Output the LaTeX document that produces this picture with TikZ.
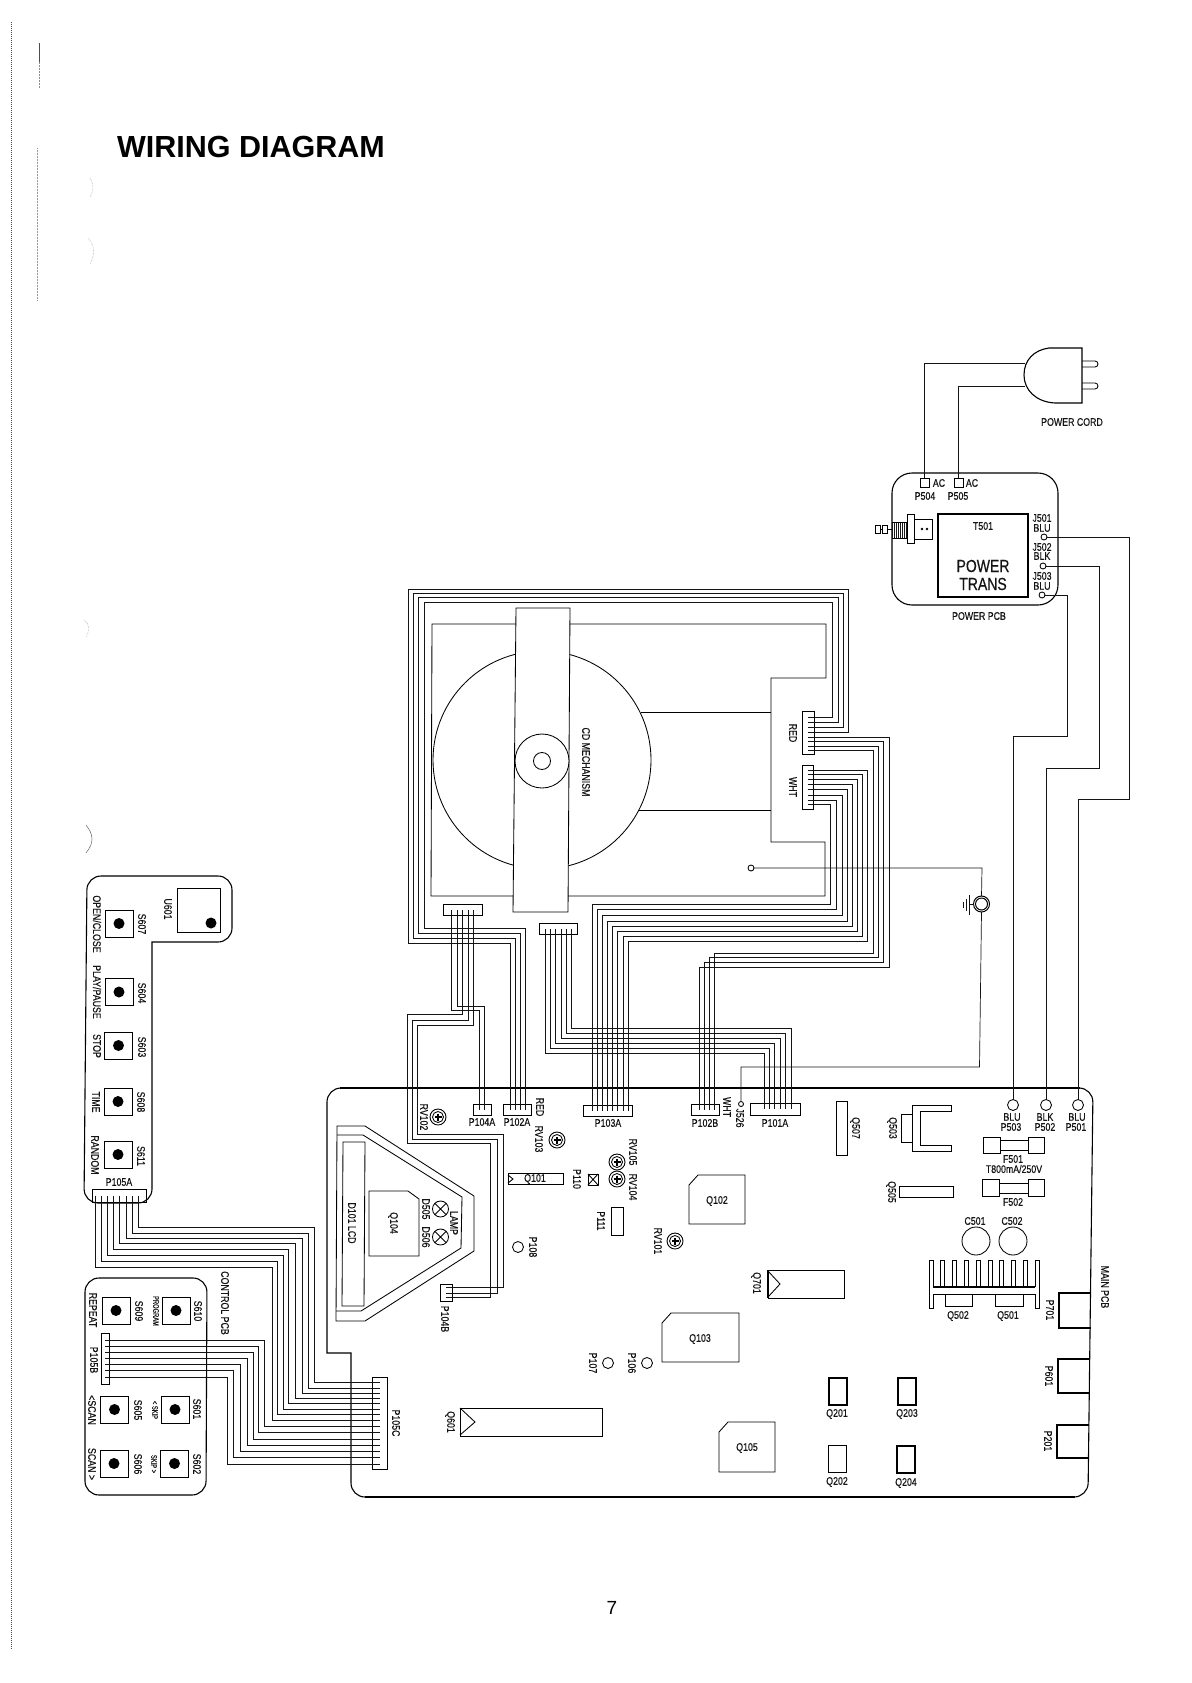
\documentclass[tikz,border=0pt]{standalone}
\usepackage{fontspec}
\setmainfont{Liberation Sans}
\newfontfamily\narrowf[FakeStretch=0.8,FakeBold=0.35]{Liberation Sans}
\newfontfamily\slimf[FakeStretch=0.72,FakeBold=0.3]{Liberation Sans}
\tikzset{
  wire/.style={draw=black!92,line width=0.7pt,line join=miter},
  part/.style={draw=black,line width=0.85pt},
  pcb/.style={draw=black,line width=1.1pt},
  box/.style={rectangle,part,inner sep=0,outer sep=0},
  ring/.style={circle,part,inner sep=0,outer sep=0,minimum size=#1},
  dotmark/.style={circle,fill=black,inner sep=0,outer sep=0,minimum size=11pt},
  lab/.style={inner sep=0,outer sep=0,text=black!92,font=\narrowf\fontsize{11}{11.5}\selectfont},
  rlab/.style={lab,rotate=-90},
  tiny lab/.style={rlab,font=\slimf\fontsize{8}{8.5}\selectfont},
  speck/.style={draw=black!40,line width=0.5pt,densely dotted}
}
\begin{document}
\begin{tikzpicture}[x=1pt,y=-1pt]
\useasboundingbox (0,0) rectangle (1191,1683);
\fill[white] (0,0) rectangle (1191,1683);
% scan marks
\draw[draw=black!70,line width=1pt,densely dotted] (11,22) -- (11,1650);
\draw[draw=black!70,line width=0.5pt] (39,43) -- (39,62);
\draw[draw=black!45,line width=0.5pt,densely dotted] (39,62) -- (39,88);
\draw[speck] (37,148) -- (37,300);
\draw[speck] (90,178) .. controls (94,184) and (94,190) .. (90,197);
\draw[speck] (88,238) .. controls (95,245) and (95,255) .. (90,264);
\draw[draw=black!60,line width=0.5pt] (86,825) .. controls (94,835) and (94,843) .. (86,853);
\draw[speck] (84,620) .. controls (90,625) and (90,630) .. (86,637);
% title and page number
\node[inner sep=0,font=\bfseries\fontsize{30.5}{32}\selectfont] (title) at (251,147) {WIRING DIAGRAM};
\node[inner sep=0,font=\fontsize{19}{20}\selectfont] (pageno) at (612,1608) {7};

% ---------- boards
\draw[pcb] (351,1353) -- (327,1353) [rounded corners=14pt] -- (327,1088) -- (1093,1088) -- (1088,1497) -- (351,1497) -- (351,1420) [sharp corners] -- cycle;
\draw[pcb,line width=1.5pt] (340,1088) -- (1080,1088);
\draw[pcb,line width=1.5pt] (365,1497) -- (1075,1497);
\draw[pcb] (152,942) [rounded corners=14pt] -- (152,1203) -- (84,1203) -- (87,876) -- (232,876) -- (232,942) -- (190,942) [sharp corners] -- cycle;
\draw[pcb] (140,1278) [rounded corners=14pt] -- (85,1278) -- (85,1495) -- (206,1495) -- (207,1278) -- (160,1278) [sharp corners] -- cycle;
\draw[pcb] (950,473) [rounded corners=20pt] -- (892,473) -- (892,605) -- (1058,605) -- (1058,473) -- (1000,473) [sharp corners] -- cycle;

% ---------- CD mechanism
\draw[part] (432,624) -- (826,624) -- (826,678) -- (771,678) -- (771,842) -- (825,842) -- (825,896) -- (431,896) -- cycle;
\node[ring=218pt,fill=white] (disc) at (542,760) {};
\draw[part] (641,712) -- (771,712);
\draw[part] (638,810) -- (771,810);
\draw[part,fill=white] (516,608) -- (570,608) -- (568,912) -- (513,912) -- cycle;
\node[ring=54pt,fill=white] (hub) at (542,761) {};
\node[ring=17pt] (hole) at (542,761) {};

% ---------- connectors
\node[box,minimum width=12pt,minimum height=43pt] (RED) at (808,732.5) {};
\node[box,minimum width=11pt,minimum height=44pt] (WHTc) at (807.5,787) {};
\node[box,minimum width=39pt,minimum height=11pt] (CNa) at (462.5,910) {};
\node[box,minimum width=38pt,minimum height=11pt] (CNb) at (558,928.5) {};
\node[box,minimum width=18pt,minimum height=11pt] (P104A) at (482,1109.5) {};
\node[box,minimum width=28pt,minimum height=11pt] (P102A) at (517,1109.5) {};
\node[box,minimum width=49pt,minimum height=11pt] (P103A) at (607.5,1110.5) {};
\node[box,minimum width=28pt,minimum height=11pt] (P102B) at (705,1109.5) {};
\node[box,minimum width=50pt,minimum height=12pt] (P101A) at (775,1109) {};
\node[box,minimum width=12pt,minimum height=17pt] (P104B) at (446,1292.5) {};
\node[box,minimum width=54pt,minimum height=13pt] (P105A) at (119,1195.5) {};
\node[box,minimum width=8pt,minimum height=51pt] (P105B) at (105,1358.5) {};
\node[box,minimum width=15pt,minimum height=92pt] (P105C) at (379.5,1423) {};

% ---------- wire bundles
\foreach \py/\rx/\ty/\lx/\by/\dx in {717/832/602/424/928/525,722/838/597/418/933/520,727/843/593/413/938/515,732/848/589/408/943/510}
  \draw[wire] (RED.center |- 0,\py) -- (\rx,\py) -- (\rx,\ty) -- (\lx,\ty) -- (\lx,\by) -- (\dx,\by) -- (\dx,0 |- P102A.center);
\foreach \py/\rx/\by/\lx in {737/889/967/699,741/883/962/704,746/878/957/709,750/873/953/714}
  \draw[wire] (RED.center |- 0,\py) -- (\rx,\py) -- (\rx,\by) -- (\lx,\by) -- (\lx,0 |- P102B.center);
\foreach \py/\rx/\by/\lx in {770/867/941/628,774/862/936/623,779/857/931/617,784/852/926/612,789/847/921/607,795/842/915/602,800/836/909/597,804/830/904/592}
  \draw[wire] (WHTc.center |- 0,\py) -- (\rx,\py) -- (\rx,\by) -- (\lx,\by) -- (\lx,0 |- P103A.center);
\foreach \sx/\hy/\dx in {545/1053/764,550/1048/769,555/1043/774,561/1038/780,566/1033/785,571/1028/791}
  \draw[wire] (\sx,0 |- CNb.center) -- (\sx,\hy) -- (\dx,\hy) -- (\dx,0 |- P101A.center);
\draw[wire] (451,0 |- CNa.center) -- (451,1010) -- (479,1010) -- (479,0 |- P104A.center);
\draw[wire] (457,0 |- CNa.center) -- (457,1006) -- (484,1006) -- (484,0 |- P104A.center);
\foreach \sx/\hy/\lx/\by/\rx/\ey in {462/1014/407/1143/490/1297,468/1020/412/1139/497/1293,473/1025/417/1134/503/1287}
  \draw[wire] (\sx,0 |- CNa.center) -- (\sx,\hy) -- (\lx,\hy) -- (\lx,\by) -- (\rx,\by) -- (\rx,\ey) -- (P104B.center |- 0,\ey);
\foreach \ax/\hy/\vx/\ey in {138/1227/314/1382,132/1233/308/1388,126/1238/302/1393,119/1243/295/1398,113/1249/288/1403,107/1255/283/1409,101/1261/277/1414,95/1267/272/1420}
  \draw[wire] (\ax,0 |- P105A.center) -- (\ax,\hy) -- (\vx,\hy) -- (\vx,\ey) -- (P105C.center |- 0,\ey);
\foreach \sy/\vx/\ey in {1340/264/1426,1346/258/1432,1352/253/1439,1358/247/1445,1364/240/1451,1370/233/1457,1377/227/1464}
  \draw[wire] (P105B.center |- 0,\sy) -- (\vx,\sy) -- (\vx,\ey) -- (P105C.center |- 0,\ey);

% ---------- power PCB
\node[box,line width=1.1pt,minimum width=90pt,minimum height=83pt] (T501) at (983,555.5) {};
\node[box,minimum size=9pt] (P504) at (924.5,482.5) {};
\node[box,minimum size=9pt] (P505) at (958.5,482.5) {};
\node[ring=6pt] (J501) at (1044,537) {};
\node[ring=6pt] (J502) at (1043,566) {};
\node[ring=6pt] (J503) at (1042,595) {};
\foreach \x in {892,894,...,906} \draw[line width=1pt,black!90] (\x,522) -- (\x,538);
\draw[part] (892,522) -- (907,522) (892,538) -- (907,538);
\draw[part] (907,514) rectangle (914,543);
\draw[part] (914,519) rectangle (932,539);
\fill (922,529) circle[radius=1.4] (927,529) circle[radius=1.4];
\draw[part] (875,525) rectangle (880,533) (882,525) rectangle (887,533) (887,529) -- (892,529) (880,529) -- (882,529);
% plug
\draw[part,line width=1.1pt] (1082,348) -- (1049,348) .. controls (1034,350) and (1024,360) .. (1024,375) .. controls (1024,390) and (1036,402) .. (1055,403) -- (1082,403) -- cycle;
\draw[part,rounded corners=3pt] (1082,361) -- (1098,361) -- (1098,367) -- (1082,367);
\draw[part,rounded corners=3pt] (1082,383) -- (1098,383) -- (1098,389) -- (1082,389);
\coordinate (plugA) at (1025,363);
\coordinate (plugB) at (1025,386);
\draw[wire] (plugA) -- (924.5,363) -- (P504.north);
\draw[wire] (plugB) -- (958.5,386) -- (P505.north);

% ---------- main PCB terminals
\node[ring=11pt] (P503) at (1013,1105) {};
\node[ring=11pt] (P502) at (1046,1105) {};
\node[ring=11pt] (P501) at (1078,1105) {};
\draw[wire] (J501.east) -- (1129.5,537) -- (1129.5,799) -- (1078,799) -- (P501.north);
\draw[wire] (J502.east) -- (1099.5,566) -- (1099.5,768) -- (1046,768) -- (P502.north);
\draw[wire] (J503.east) -- (1067,595) -- (1067,736) -- (1013,736) -- (P503.north);
% ground
\node[ring=6pt] (G1) at (751,868) {};
\node[ring=16pt,line width=1pt] (G2) at (981.5,904) {};
\node[ring=12pt,line width=1pt] (G2i) at (981.5,904) {};
\node[ring=5pt] (J526) at (741,1104) {};
\draw[wire] (G1.east) -- (982,868) -- (G2.north);
\draw[wire] (G2.south) -- (979.5,1067) -- (741,1067) -- (J526.north);
\draw[wire] (G2.west) -- (969,904);
\draw[wire] (969,895) -- (969,915) (966,899) -- (966,911) (963,902) -- (963,908);

% ---------- triangle lamp board
\draw[part] (337,1126) -- (365,1126) -- (474,1196) -- (474,1251) -- (365,1321) -- (336,1321) -- cycle;
\draw[part] (337,1135) -- (363,1135) -- (462,1197) -- (461,1248) -- (361,1311) -- (336,1311);
\draw[part] (343,1142) -- (365,1142) -- (364,1306) -- (342,1306) -- cycle;
\draw[part] (369,1191) -- (408,1191) -- (419,1199) -- (419,1256) -- (369,1256) -- cycle;
\foreach \n/\y in {D505c/1209,D506c/1237} {
  \node[ring=16pt] (\n) at (440.5,\y) {};
  \draw[part] (\n.north west) -- (\n.south east) (\n.north east) -- (\n.south west);
}
% ---------- chips
\draw[part] (698,1175) -- (745,1175) -- (745,1224) -- (689,1224) -- (689,1185) -- cycle;
\draw[part] (671,1313) -- (739,1313) -- (739,1362) -- (662,1362) -- (662,1323) -- cycle;
\draw[part] (728,1422) -- (775,1422) -- (775,1472) -- (719,1472) -- (719,1432) -- cycle;
\draw[part] (768,1270) rectangle (844,1298);
\draw[part,line width=1.3pt] (768,1270) -- (768,1298);
\draw[part] (768,1271) -- (780,1284) -- (768,1297);
\draw[part] (460,1408) rectangle (602,1436);
\draw[part] (460,1408) -- (475,1422) -- (460,1435);
\draw[part] (508,1173) rectangle (563,1184);
\draw[part] (508,1175) -- (513,1179) -- (508,1183);
\node[box,minimum width=10pt,minimum height=11pt] (P110) at (593,1179.5) {};
\draw[part] (P110.north west) -- (P110.south east) (P110.north east) -- (P110.south west);
\node[box,minimum width=12pt,minimum height=28pt] (P111) at (617,1221) {};
\node[ring=11pt] (P108) at (518,1247) {};
\node[ring=11pt] (P107) at (608,1363) {};
\node[ring=11pt] (P106) at (647,1363) {};
\foreach \n/\x/\y in {RV102/438/1117,RV103/557/1140,RV105/617/1162,RV104/617/1179,RV101/675/1241} {
  \node[ring=16pt,line width=0.9pt] (\n) at (\x,\y) {};
  \node[ring=11pt] (\n i) at (\x,\y) {};
  \draw[line width=1.2pt,black] (\x-3.5,\y) -- (\x+3.5,\y) (\x,\y-3.5) -- (\x,\y+3.5);
}
\node[box,minimum width=11pt,minimum height=54pt] (Q507) at (841.5,1128) {};
\draw[part] (951,1105) -- (912,1105) -- (912,1151) -- (951,1151) -- (951,1145) -- (920,1145) -- (920,1111) -- (951,1111) -- cycle;
\draw[part] (912,1114) -- (901,1114) -- (901,1142) -- (912,1142);
\node[box,minimum width=54pt,minimum height=11pt] (Q505) at (926,1191.5) {};
% fuses
\foreach \yA/\yB/\yC/\yD/\xx in {1137/1153/1140/1150/0,1179/1196/1183/1193/-1} {
  \draw[part] (983+\xx,\yA) rectangle (1000+\xx,\yB);
  \draw[part] (1028,\yA) rectangle (1044,\yB);
  \draw[part] (1000+\xx,\yC) -- (1028,\yC) (1000+\xx,\yD) -- (1028,\yD);
}
\node[ring=28pt] (C501) at (976,1241) {};
\node[ring=28pt] (C502) at (1013,1241) {};
% heat sink
\foreach \i in {1,...,8} \draw[part] (929+11.8*\i,1287) -- (929+11.8*\i,1260) -- (933+11.8*\i,1260) -- (933+11.8*\i,1287);
\draw[part] (933,1287) -- (933,1260) -- (929,1260) -- (929,1308) -- (933,1308) -- (933,1294) -- (1035,1294) -- (1035,1308) -- (1039,1308) -- (1039,1260) -- (1035,1260) -- (1035,1287);
\draw[part,line width=1.1pt] (933,1287) -- (1035,1287);
\draw[part] (945,1295) -- (945,1306) -- (972,1306) -- (972,1295);
\draw[part] (995,1295) -- (995,1306) -- (1023,1306) -- (1023,1295);
% edge sockets and small parts
\foreach \n/\l/\r/\t/\b in {P701/1059/1091/1293/1328,P601/1058/1090/1359/1393,P201/1057/1089/1425/1458}
  \draw[part,line width=1.1pt] (\r,\t) -- (\l,\t) -- (\l,\b) -- (\r,\b);
\foreach \n/\x/\y in {Q201/838/1391.5,Q202/837.5/1459,Q203/907/1391.5,Q204/906/1459.5}
  \node[box,line width=1.1pt,minimum width=18pt,minimum height=27pt] (\n) at (\x,\y) {};
% switches
\foreach \n/\x/\y in {S607/119/923.5,S604/119/992,S603/118.5/1045.5,S608/118/1101.5,S611/118/1154.5,S610/176/1310.5,S609/116/1310.5,S605/114.5/1409.5,S601/175/1409.5,S606/114/1463.5,S602/174.5/1463.5} {
  \node[box,minimum width=28pt,minimum height=27pt] (\n) at (\x,\y) {};
  \node[dotmark] (\n d) at (\x,\y) {};
}
\node[box,minimum width=43pt,minimum height=44pt] (U601) at (198.5,910) {};
\node[dotmark] (U601d) at (211,923) {};

% ---------- labels
\foreach \x/\y/\t in {142/924/S607,142/993/S604,142/1047/S603,141/1102/S608,141/1156/S611,97/1046/STOP,96/1102/TIME,95/1155/RANDOM,168/909/U601,
  198/1311/S610,139/1311/S609,93/1310/REPEAT,138/1410/S605,92/1410/<SCAN,197/1409/S601,138/1464/S606,92/1464/SCAN >,197/1464/S602,94/1360/P105B,
  396/1423/P105C,225/1303/CONTROL PCB,352/1223/D101 LCD,393/1223/Q104,426/1209/D505,426/1237/D506,454/1223/LAMP,445/1319/P104B,424/1117/RV102,
  540/1107/RED,539/1139/RV103,633/1152/RV105,633/1187/RV104,577/1179/P110,601/1221/P111,533/1247/P108,658/1241/RV101,727/1107/WHT,740/1118/J526,
  855/1128/Q507,892/1128/Q503,891/1192/Q505,1050/1310/P701,1049/1376/P601,1048/1441/P201,1105/1287/MAIN PCB,756/1283/Q701,450/1422/Q601,593/1363/P107,632/1363/P106,
  586/762/CD MECHANISM,793/733/RED,793/787/WHT}
  \node[rlab] (r\x-\y) at (\x,\y) {\t};
\node[rlab] (rOpen) at (97,924) {OPEN/CLOSE};
\node[rlab] (rPlay) at (97,992) {PLAY/PAUSE};
\foreach \x/\y/\t in {156/1311/PROGRAM,155/1410/< SKIP,154/1464/SKIP >}
  \node[tiny lab] (s\x-\y) at (\x,\y) {\t};
\foreach \x/\y/\t in {925/496/P504,958/496/P505,939/483/AC,972/483/AC,983/526/T501,1072/422/POWER CORD,979/616/POWER PCB,
  1042/518/J501,1042/528/BLU,1042/547/J502,1042/556/BLK,1042/576/J503,1042/586/BLU,
  482/1122/P104A,517/1122/P102A,608/1123/P103A,705/1123/P102B,775/1123/P101A,535/1179/Q101,717/1201/Q102,700/1339/Q103,747/1448/Q105,
  837/1414/Q201,837/1482/Q202,907/1414/Q203,906/1483/Q204,975/1221/C501,1012/1221/C502,1013/1159/F501,1013/1202/F502,958/1316/Q502,1008/1316/Q501,
  1012/1117/BLU,1011/1127/P503,1045/1117/BLK,1045/1127/P502,1077/1117/BLU,1076/1127/P501,119/1182/P105A}
  \node[lab] (h\x-\y) at (\x,\y) {\t};
\node[lab] (fuseval) at (1014,1169) {T800mA/250V};
\node[lab,font=\narrowf\fontsize{17.5}{18}\selectfont] (tPower) at (983,566) {POWER};
\node[lab,font=\narrowf\fontsize{17.5}{18}\selectfont] (tTrans) at (983,584) {TRANS};
\end{tikzpicture}
\end{document}
